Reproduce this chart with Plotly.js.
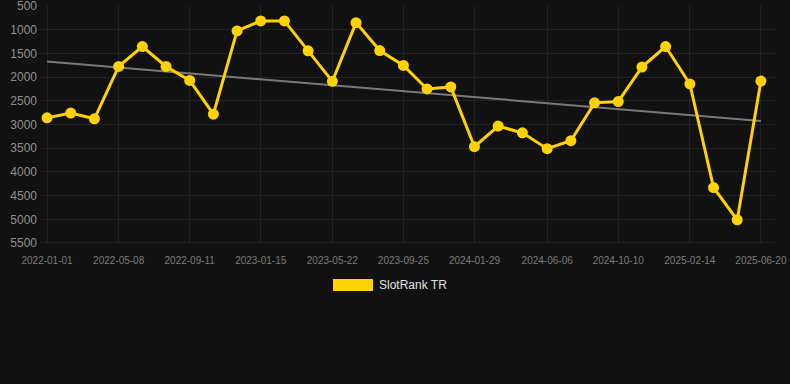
<!DOCTYPE html>
<html>
<head>
<meta charset="utf-8">
<script src="https://cdn.plot.ly/plotly-3.0.1.min.js"></script>
<style>html,body{margin:0;padding:0;background:#111111;}#chart{width:790px;height:384px;}</style>
</head>
<body>
<div id="chart"></div>
<script>
const dates = [
  "2022-01-01","2022-02-12","2022-03-26","2022-05-08","2022-06-19","2022-07-31",
  "2022-09-11","2022-10-23","2022-12-04","2023-01-15","2023-02-26","2023-04-09",
  "2023-05-22","2023-07-03","2023-08-14","2023-09-25","2023-11-06","2023-12-18",
  "2024-01-29","2024-03-11","2024-04-23","2024-06-06","2024-07-18","2024-08-29",
  "2024-10-10","2024-11-21","2025-01-02","2025-02-14","2025-03-28","2025-05-09",
  "2025-06-20"
];
const ranks = [
  2860, 2760, 2880, 1775, 1355, 1775,
  2070, 2783, 1025, 815, 815, 1445,
  2090, 851, 1440, 1753, 2250, 2208,
  3468, 3034, 3175, 3510, 3342, 2543,
  2516, 1788, 1355, 2145, 4330, 5010,
  2083
];
const tickDates = ["2022-01-01","2022-05-08","2022-09-11","2023-01-15","2023-05-22","2023-09-25","2024-01-29","2024-06-06","2024-10-10","2025-02-14","2025-06-20"];
const seriesName = "SlotRank TR";

// linear trend (least squares on time)
const t = dates.map(d => new Date(d).getTime());
const n = t.length;
const mt = t.reduce((a,b)=>a+b,0)/n, my = ranks.reduce((a,b)=>a+b,0)/n;
let sxy=0, sxx=0;
for (let i=0;i<n;i++){ sxy += (t[i]-mt)*(ranks[i]-my); sxx += (t[i]-mt)*(t[i]-mt); }
const slope = sxy/sxx, icpt = my - slope*mt;
const trendX = [dates[0], dates[n-1]];
const trendY = [icpt + slope*t[0], icpt + slope*t[n-1]];

const data = [
  {x: trendX, y: trendY, type:"scatter", mode:"lines", line:{color:"#7a7a7a", width:2}, hoverinfo:"skip", showlegend:false},
  {x: dates, y: ranks, type:"scatter", mode:"lines+markers", name: seriesName,
   line:{color:"#FFD200", width:3}, marker:{color:"#FFD200", size:11}, showlegend:false}
];
const layout = {
  width:790, height:384,
  paper_bgcolor:"#111111", plot_bgcolor:"#111111",
  margin:{l:40, r:15, t:6, b:141},
  font:{family:"Liberation Sans, Arial, sans-serif", color:"#888"},
  xaxis:{type:"date", range:["2021-12-19 12:00","2025-07-15"],
    tickvals: tickDates, ticktext: tickDates,
    tickfont:{size:10, color:"#7c7c7c"}, gridcolor:"#222222", gridwidth:1,
    showline:false, zeroline:false, ticks:"", ticklabelstandoff:10, ticklabeloverflow:"allow"},
  yaxis:{range:[5500,500], tickvals:[500,1000,1500,2000,2500,3000,3500,4000,4500,5000,5500],
    tickfont:{size:12, color:"#909090"}, gridcolor:"#222222", zeroline:false, showline:false, ticks:"",
    ticklabelstandoff:2, ticklabeloverflow:"allow"},
  shapes:[
    {type:"line", xref:"paper", yref:"y", x0:0, x1:1, y0:5500, y1:5500, line:{color:"#333333", width:1}},
    {type:"rect", xref:"paper", yref:"paper", x0:(333-40)/735, x1:(373-40)/735, y0:(243-291)/237, y1:(243-279)/237,
     fillcolor:"#FFD200", line:{width:0}}
  ],
  annotations:[
    {xref:"paper", yref:"paper", x:(377-40)/735, y:(243-285)/237, xanchor:"left", yanchor:"middle",
     text: seriesName, showarrow:false, font:{size:12, color:"#e0e0e0"}}
  ]
};
Plotly.newPlot("chart", data, layout, {displayModeBar:false, staticPlot:true});
</script>
</body>
</html>
